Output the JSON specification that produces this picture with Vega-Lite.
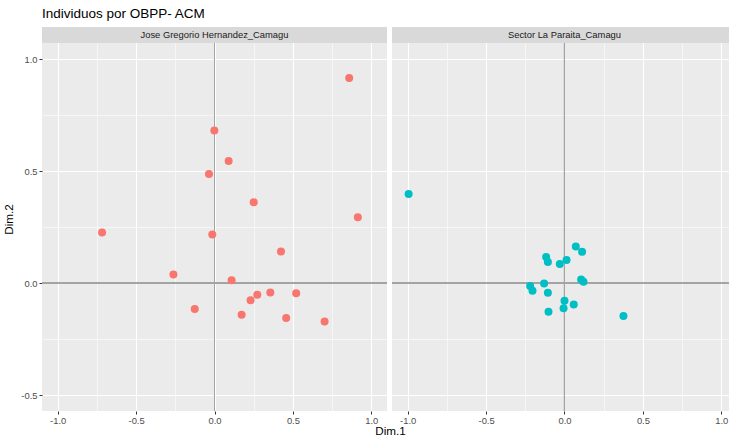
{
  "$schema": "https://vega.github.io/schema/vega-lite/v6.json",
  "background": "white",
  "padding": {"left": 3, "top": 7, "right": 0, "bottom": 0},
  "bounds": "flush",
  "title": {"text": "Individuos por OBPP- ACM", "anchor": "start", "frame": "group", "font": "Liberation Sans", "fontSize": 13.5, "fontWeight": "normal", "color": "#000000", "offset": 6},
  "datasets": {
    "pts": [
      {"grupo": "Jose Gregorio Hernandez_Camagu", "Dim1": 0.859, "Dim2": 0.917},
      {"grupo": "Jose Gregorio Hernandez_Camagu", "Dim1": -0.001, "Dim2": 0.683},
      {"grupo": "Jose Gregorio Hernandez_Camagu", "Dim1": 0.09, "Dim2": 0.546},
      {"grupo": "Jose Gregorio Hernandez_Camagu", "Dim1": -0.035, "Dim2": 0.488},
      {"grupo": "Jose Gregorio Hernandez_Camagu", "Dim1": 0.25, "Dim2": 0.362},
      {"grupo": "Jose Gregorio Hernandez_Camagu", "Dim1": 0.914, "Dim2": 0.295},
      {"grupo": "Jose Gregorio Hernandez_Camagu", "Dim1": -0.717, "Dim2": 0.226},
      {"grupo": "Jose Gregorio Hernandez_Camagu", "Dim1": -0.014, "Dim2": 0.217},
      {"grupo": "Jose Gregorio Hernandez_Camagu", "Dim1": 0.424, "Dim2": 0.141},
      {"grupo": "Jose Gregorio Hernandez_Camagu", "Dim1": -0.262, "Dim2": 0.039},
      {"grupo": "Jose Gregorio Hernandez_Camagu", "Dim1": 0.109, "Dim2": 0.013},
      {"grupo": "Jose Gregorio Hernandez_Camagu", "Dim1": 0.356, "Dim2": -0.042},
      {"grupo": "Jose Gregorio Hernandez_Camagu", "Dim1": 0.521, "Dim2": -0.045},
      {"grupo": "Jose Gregorio Hernandez_Camagu", "Dim1": 0.273, "Dim2": -0.052},
      {"grupo": "Jose Gregorio Hernandez_Camagu", "Dim1": 0.23, "Dim2": -0.076},
      {"grupo": "Jose Gregorio Hernandez_Camagu", "Dim1": -0.126, "Dim2": -0.116},
      {"grupo": "Jose Gregorio Hernandez_Camagu", "Dim1": 0.173, "Dim2": -0.141},
      {"grupo": "Jose Gregorio Hernandez_Camagu", "Dim1": 0.457, "Dim2": -0.156},
      {"grupo": "Jose Gregorio Hernandez_Camagu", "Dim1": 0.702, "Dim2": -0.171},
      {"grupo": "Sector La Paraita_Camagu", "Dim1": -0.994, "Dim2": 0.399},
      {"grupo": "Sector La Paraita_Camagu", "Dim1": 0.072, "Dim2": 0.164},
      {"grupo": "Sector La Paraita_Camagu", "Dim1": 0.112, "Dim2": 0.14},
      {"grupo": "Sector La Paraita_Camagu", "Dim1": -0.117, "Dim2": 0.117},
      {"grupo": "Sector La Paraita_Camagu", "Dim1": -0.106, "Dim2": 0.095},
      {"grupo": "Sector La Paraita_Camagu", "Dim1": 0.013, "Dim2": 0.104},
      {"grupo": "Sector La Paraita_Camagu", "Dim1": -0.03, "Dim2": 0.086},
      {"grupo": "Sector La Paraita_Camagu", "Dim1": 0.106, "Dim2": 0.016},
      {"grupo": "Sector La Paraita_Camagu", "Dim1": 0.121, "Dim2": 0.006},
      {"grupo": "Sector La Paraita_Camagu", "Dim1": -0.219, "Dim2": -0.013},
      {"grupo": "Sector La Paraita_Camagu", "Dim1": -0.204, "Dim2": -0.034},
      {"grupo": "Sector La Paraita_Camagu", "Dim1": -0.13, "Dim2": -0.001},
      {"grupo": "Sector La Paraita_Camagu", "Dim1": -0.106, "Dim2": -0.043},
      {"grupo": "Sector La Paraita_Camagu", "Dim1": 0.0, "Dim2": -0.079},
      {"grupo": "Sector La Paraita_Camagu", "Dim1": -0.006, "Dim2": -0.112},
      {"grupo": "Sector La Paraita_Camagu", "Dim1": 0.059, "Dim2": -0.095},
      {"grupo": "Sector La Paraita_Camagu", "Dim1": -0.102, "Dim2": -0.128},
      {"grupo": "Sector La Paraita_Camagu", "Dim1": 0.376, "Dim2": -0.147}
    ],
    "strips": [
      {"grupo": "Jose Gregorio Hernandez_Camagu", "ybot": 1.0737, "ytop": 1.1452, "ymid": 1.1095, "xmid": 0},
      {"grupo": "Sector La Paraita_Camagu", "ybot": 1.0737, "ytop": 1.1452, "ymid": 1.1095, "xmid": 0}
    ]
  },
  "spacing": 5,
  "hconcat": [
    {
      "width": 345, "height": 384,
      "view": {"fill": "#EBEBEB", "stroke": null},
      "encoding": {
        "x": {"type": "quantitative", "scale": {"domain": [-1.1, 1.1], "nice": false, "zero": false},
          "axis": {"title": "Dim.1", "titleX": 348, "titleAlign": "center", "titleAnchor": null,
            "values": [-1, -0.75, -0.5, -0.25, 0, 0.25, 0.5, 0.75, 1],
            "labelExpr": "abs(datum.value*2 - round(datum.value*2)) < 0.001 ? ((datum.value < 0 ? '-' : '') + format(abs(datum.value), '.1f')) : ''",
            "tickOpacity": {"condition": {"test": "abs(datum.value*2 - round(datum.value*2)) < 0.001", "value": 1}, "value": 0},
            "gridWidth": {"condition": {"test": "abs(datum.value*2 - round(datum.value*2)) < 0.001", "value": 1.1}, "value": 0.55}}},
        "y": {"type": "quantitative", "scale": {"domain": [-0.5715, 1.1452], "nice": false, "zero": false},
          "axis": {"title": "Dim.2",
            "values": [-0.5, -0.25, 0, 0.25, 0.5, 0.75, 1],
            "labelExpr": "abs(datum.value*2 - round(datum.value*2)) < 0.001 ? ((datum.value < 0 ? '-' : '') + format(abs(datum.value), '.1f')) : ''",
            "tickOpacity": {"condition": {"test": "abs(datum.value*2 - round(datum.value*2)) < 0.001", "value": 1}, "value": 0},
            "gridWidth": {"condition": {"test": "abs(datum.value*2 - round(datum.value*2)) < 0.001", "value": 1.1}, "value": 0.55}}}
      },
      "layer": [
        {"data": {"name": "pts"}, "transform": [{"filter": "datum.grupo === 'Jose Gregorio Hernandez_Camagu'"}],
         "mark": {"type": "rule", "color": "#A3A3A3", "strokeWidth": 1}, "encoding": {"x": {"datum": 0}, "y": null}},
        {"data": {"name": "pts"}, "transform": [{"filter": "datum.grupo === 'Jose Gregorio Hernandez_Camagu'"}],
         "mark": {"type": "rule", "color": "#A3A3A3", "strokeWidth": 1}, "encoding": {"y": {"datum": 0}, "x": null}},
        {"data": {"name": "pts"}, "transform": [{"filter": "datum.grupo === 'Jose Gregorio Hernandez_Camagu'"}],
         "mark": {"type": "circle", "size": 64, "opacity": 1, "color": "#F8766D"},
         "encoding": {"x": {"field": "Dim1"}, "y": {"field": "Dim2"}}},
        {"data": {"name": "strips"}, "transform": [{"filter": "datum.grupo === 'Jose Gregorio Hernandez_Camagu'"}],
         "mark": {"type": "rect", "color": "#D9D9D9", "opacity": 1},
         "encoding": {"x": null, "y": {"field": "ybot"}, "y2": {"field": "ytop"}}},
        {"data": {"name": "strips"}, "transform": [{"filter": "datum.grupo === 'Jose Gregorio Hernandez_Camagu'"}],
         "mark": {"type": "text", "font": "Liberation Sans", "fontSize": 9.4, "color": "#1A1A1A", "baseline": "middle", "align": "center"},
         "encoding": {"x": {"field": "xmid"}, "y": {"field": "ymid"}, "text": {"field": "grupo"}}}
      ]
    },
    {
      "width": 337, "height": 384,
      "view": {"fill": "#EBEBEB", "stroke": null},
      "encoding": {
        "x": {"type": "quantitative", "scale": {"domain": [-1.1, 1.049], "nice": false, "zero": false},
          "axis": {"title": null,
            "values": [-1, -0.75, -0.5, -0.25, 0, 0.25, 0.5, 0.75, 1],
            "labelExpr": "abs(datum.value*2 - round(datum.value*2)) < 0.001 ? ((datum.value < 0 ? '-' : '') + format(abs(datum.value), '.1f')) : ''",
            "tickOpacity": {"condition": {"test": "abs(datum.value*2 - round(datum.value*2)) < 0.001", "value": 1}, "value": 0},
            "gridWidth": {"condition": {"test": "abs(datum.value*2 - round(datum.value*2)) < 0.001", "value": 1.1}, "value": 0.55}}},
        "y": {"type": "quantitative", "scale": {"domain": [-0.5715, 1.1452], "nice": false, "zero": false},
          "axis": {"title": null, "labels": false, "ticks": false,
            "values": [-0.5, -0.25, 0, 0.25, 0.5, 0.75, 1],
            "gridWidth": {"condition": {"test": "abs(datum.value*2 - round(datum.value*2)) < 0.001", "value": 1.1}, "value": 0.55}}}
      },
      "layer": [
        {"data": {"name": "pts"}, "transform": [{"filter": "datum.grupo === 'Sector La Paraita_Camagu'"}],
         "mark": {"type": "rule", "color": "#A3A3A3", "strokeWidth": 1}, "encoding": {"x": {"datum": 0}, "y": null}},
        {"data": {"name": "pts"}, "transform": [{"filter": "datum.grupo === 'Sector La Paraita_Camagu'"}],
         "mark": {"type": "rule", "color": "#A3A3A3", "strokeWidth": 1}, "encoding": {"y": {"datum": 0}, "x": null}},
        {"data": {"name": "pts"}, "transform": [{"filter": "datum.grupo === 'Sector La Paraita_Camagu'"}],
         "mark": {"type": "circle", "size": 64, "opacity": 1, "color": "#00BFC4"},
         "encoding": {"x": {"field": "Dim1"}, "y": {"field": "Dim2"}}},
        {"data": {"name": "strips"}, "transform": [{"filter": "datum.grupo === 'Sector La Paraita_Camagu'"}],
         "mark": {"type": "rect", "color": "#D9D9D9", "opacity": 1},
         "encoding": {"x": null, "y": {"field": "ybot"}, "y2": {"field": "ytop"}}},
        {"data": {"name": "strips"}, "transform": [{"filter": "datum.grupo === 'Sector La Paraita_Camagu'"}],
         "mark": {"type": "text", "font": "Liberation Sans", "fontSize": 9.4, "color": "#1A1A1A", "baseline": "middle", "align": "center"},
         "encoding": {"x": {"field": "xmid"}, "y": {"field": "ymid"}, "text": {"field": "grupo"}}}
      ]
    }
  ],
  "config": {
    "font": "Liberation Sans",
    "axis": {
      "domain": false,
      "grid": true,
      "gridColor": "#FFFFFF",
      "tickColor": "#333333",
      "tickSize": 3,
      "tickWidth": 1,
      "labelFont": "Liberation Sans",
      "labelFontSize": 9.4,
      "labelColor": "#4D4D4D",
      "labelPadding": 2,
      "labelFlush": false,
      "labelOverlap": false,
      "titleFont": "Liberation Sans",
      "titleFontSize": 11.7,
      "titleFontWeight": "normal",
      "titleColor": "#000000",
      "titlePadding": 1
    },
    "axisY": {"titlePadding": 6}
  }
}
